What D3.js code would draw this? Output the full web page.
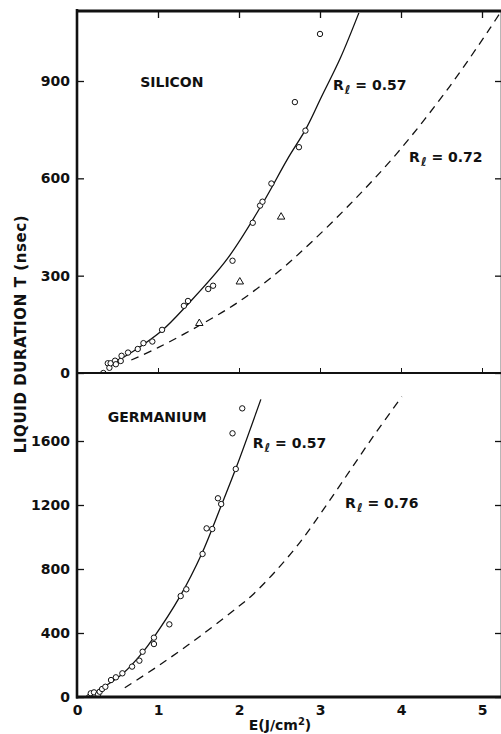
<!DOCTYPE html>
<html>
<head>
<meta charset="utf-8">
<title>Liquid duration vs E</title>
<script src="https://cdn.jsdelivr.net/npm/d3@7/dist/d3.min.js"></script>
<style>
  body { margin: 0; background: #fff; }
  svg { display: block; }
  text { font-family: "DejaVu Sans", sans-serif; font-weight: bold; fill: #111; }
</style>
</head>
<body>
<svg id="chart" width="501" height="734"></svg>
<script>
// ---- data ----
const xTicks = [0, 1, 2, 3, 4, 5];
const siTicks = [0, 300, 600, 900];
const geTicks = [0, 400, 800, 1200, 1600];

// silicon, circles
const siE = [0.325, 0.38, 0.40, 0.415, 0.47, 0.48, 0.54, 0.55, 0.63, 0.75, 0.82, 0.93, 1.05, 1.32, 1.37, 1.62, 1.68, 1.92, 2.17, 2.26, 2.29, 2.40, 2.69, 2.74, 2.82, 3.0];
const siT = [0, 30, 16, 30, 38, 27, 37, 53, 63, 74, 92, 97, 133, 207, 222, 259, 269, 346, 463, 516, 528, 584, 835, 696, 747, 1045];
// silicon, triangles
const siTriE = [1.51, 2.01, 2.52];
const siTriT = [153, 281, 481];
// silicon fits
const siFit57E = [0.37, 0.7, 1.05, 1.35, 1.85, 2.29, 2.6, 2.83, 3.02, 3.25, 3.48];
const siFit57T = [20, 68, 131, 207, 350, 522, 660, 754, 852, 970, 1110];
const siFit72E = [0.67, 1.0, 1.5, 2.0, 2.5, 2.88, 3.37, 3.95, 4.6, 5.1, 5.3];
const siFit72T = [40, 78, 145, 220, 315, 400, 520, 677, 883, 1063, 1140];

// germanium, circles
const geE = [0.15, 0.17, 0.21, 0.26, 0.28, 0.31, 0.35, 0.42, 0.48, 0.56, 0.68, 0.77, 0.81, 0.95, 0.95, 1.14, 1.28, 1.35, 1.55, 1.60, 1.67, 1.74, 1.78, 1.92, 1.96, 2.04];
const geT = [0, 23, 29, 17, 33, 50, 64, 106, 123, 148, 190, 227, 283, 371, 331, 454, 631, 673, 894, 1054, 1050, 1242, 1206, 1648, 1425, 1804];
// germanium fits
const geFit57E = [0.22, 0.37, 0.57, 0.80, 0.94, 1.27, 1.54, 1.78, 1.97, 2.27];
const geFit57T = [28, 75, 148, 273, 367, 627, 895, 1195, 1440, 1860];
const geFit76E = [0.59, 1.02, 1.52, 2.01, 2.16, 2.44, 2.75, 3.06, 3.37, 3.68, 4.01];
const geFit76T = [58, 200, 380, 572, 635, 780, 965, 1185, 1415, 1645, 1877];

// ---- layout ----
const svg = d3.select("#chart");
const edgeL = 77, edgeR = 502, edgeT = 11, edgeM = 373, edgeB = 697;

const x = d3.scaleLinear().domain([0, 5]).range([edgeL, 482]);
const ySi = d3.scaleLinear().domain([0, 900]).range([edgeM, 81]);
const yGe = d3.scaleLinear().domain([0, 1600]).range([edgeB, 441]);

const zip = (a, b) => a.map((v, i) => [v, b[i]]);
const fmt = d3.format("d");

// clip each panel
const defs = svg.append("defs");
defs.append("clipPath").attr("id", "clipSi").append("rect")
  .attr("x", edgeL).attr("y", edgeT).attr("width", edgeR - edgeL).attr("height", edgeM - edgeT);
defs.append("clipPath").attr("id", "clipGe").append("rect")
  .attr("x", edgeL).attr("y", edgeM).attr("width", edgeR - edgeL).attr("height", edgeB - edgeM);

function drawPanel(y, ticks, clipId, pts, tris, fits) {
  const g = svg.append("g");

  // inward ticks on the left, labels outside
  g.append("g")
    .attr("transform", `translate(${edgeL},0)`)
    .call(d3.axisLeft(y).tickValues(ticks).tickFormat(fmt).tickSizeInner(-7).tickSizeOuter(0).tickPadding(7))
    .call(a => a.select(".domain").remove())
    .call(a => a.selectAll("line").attr("stroke", "#111").attr("stroke-width", 1.3))
    .call(a => a.selectAll("text").attr("font-size", 14).attr("font-family", "DejaVu Sans").attr("font-weight", "bold").attr("fill", "#111"));

  // inward ticks on the right
  g.append("g")
    .attr("transform", `translate(${edgeR},0)`)
    .call(d3.axisRight(y).tickValues(ticks).tickSizeInner(-7).tickSizeOuter(0).tickFormat(""))
    .call(a => a.select(".domain").remove())
    .call(a => a.selectAll("line").attr("stroke", "#111").attr("stroke-width", 1.3));

  const body = g.append("g").attr("clip-path", `url(#${clipId})`);
  const line = d3.line().x(d => x(d[0])).y(d => y(d[1])).curve(d3.curveCatmullRom.alpha(0.5));

  fits.forEach(f => {
    body.append("path")
      .attr("d", line(zip(f.e, f.t)))
      .attr("fill", "none")
      .attr("stroke", "#111")
      .attr("stroke-width", 1.3)
      .attr("stroke-dasharray", f.dashed ? "8,6" : null);
  });

  body.selectAll("circle.pt")
    .data(zip(pts.e, pts.t))
    .join("circle")
    .attr("class", "pt")
    .attr("cx", d => x(d[0]))
    .attr("cy", d => y(d[1]))
    .attr("r", 2.7)
    .attr("fill", "#fff")
    .attr("stroke", "#111")
    .attr("stroke-width", 1);

  if (tris) {
    body.selectAll("path.tri")
      .data(zip(tris.e, tris.t))
      .join("path")
      .attr("class", "tri")
      .attr("d", d3.symbol(d3.symbolTriangle).size(24))
      .attr("transform", d => `translate(${x(d[0])},${y(d[1])})`)
      .attr("fill", "#fff")
      .attr("stroke", "#111")
      .attr("stroke-width", 1);
  }
  return g;
}

drawPanel(ySi, siTicks, "clipSi",
  { e: siE, t: siT }, { e: siTriE, t: siTriT },
  [{ e: siFit57E, t: siFit57T, dashed: false }, { e: siFit72E, t: siFit72T, dashed: true }]);

drawPanel(yGe, geTicks, "clipGe",
  { e: geE, t: geT }, null,
  [{ e: geFit57E, t: geFit57T, dashed: false }, { e: geFit76E, t: geFit76T, dashed: true }]);

// ticks pointing down from the top border, up from the middle axis
svg.append("g")
  .attr("transform", `translate(0,${edgeT})`)
  .call(d3.axisBottom(x).tickValues(xTicks.slice(1)).tickSizeInner(7).tickSizeOuter(0).tickFormat(""))
  .call(a => a.select(".domain").remove())
  .call(a => a.selectAll("line").attr("stroke", "#111").attr("stroke-width", 1.3));
svg.append("g")
  .attr("transform", `translate(0,${edgeM})`)
  .call(d3.axisTop(x).tickValues(xTicks.slice(1)).tickSizeInner(5).tickSizeOuter(0).tickFormat(""))
  .call(a => a.select(".domain").remove())
  .call(a => a.selectAll("line").attr("stroke", "#111").attr("stroke-width", 1));

// bottom axis labels
svg.append("g")
  .attr("transform", `translate(0,${edgeB})`)
  .call(d3.axisBottom(x).tickValues(xTicks).tickFormat(fmt).tickSizeInner(0).tickSizeOuter(0).tickPadding(8))
  .call(a => a.select(".domain").remove())
  .call(a => a.selectAll("text").attr("font-size", 14).attr("font-family", "DejaVu Sans").attr("font-weight", "bold").attr("fill", "#111"));

// frame lines
const frame = svg.append("g").attr("stroke", "#111").attr("fill", "none");
frame.append("line").attr("x1", edgeL).attr("x2", edgeL).attr("y1", edgeT - 2).attr("y2", edgeB + 1.5).attr("stroke-width", 2.6);
frame.append("line").attr("x1", edgeL - 1).attr("x2", edgeR).attr("y1", edgeT).attr("y2", edgeT).attr("stroke-width", 3);
frame.append("line").attr("x1", edgeL - 1).attr("x2", edgeR).attr("y1", edgeM).attr("y2", edgeM).attr("stroke-width", 2.2);
frame.append("line").attr("x1", edgeL - 1).attr("x2", edgeR).attr("y1", edgeB).attr("y2", edgeB).attr("stroke-width", 3);
frame.append("line").attr("x1", edgeR).attr("x2", edgeR).attr("y1", edgeT).attr("y2", edgeB).attr("stroke-width", 2.6);

// panel labels
function label(px, py, txt) {
  svg.append("text").attr("x", px).attr("y", py).attr("font-size", 14).text(txt);
}
function rLabel(px, py, val) {
  const t = svg.append("text").attr("x", px).attr("y", py).attr("font-size", 14);
  t.append("tspan").text("R");
  t.append("tspan").attr("dy", 4).attr("font-size", 12).attr("dx", 1).text("ℓ");
  t.append("tspan").attr("dy", -4).text(" = " + val);
}

label(x(0.78), 87, "SILICON");
rLabel(x(3.16), 90, "0.57");
rLabel(x(4.10), 162, "0.72");

label(x(0.38), 422, "GERMANIUM");
rLabel(x(2.17), 448, "0.57");
rLabel(x(3.31), 508, "0.76");

// axis titles
svg.append("text")
  .attr("transform", "translate(26,334) rotate(-90)")
  .attr("text-anchor", "middle")
  .attr("font-size", 15)
  .attr("letter-spacing", 0.6)
  .text("LIQUID DURATION T (nsec)");

const xt = svg.append("text")
  .attr("x", 280).attr("y", 730)
  .attr("text-anchor", "middle")
  .attr("font-size", 14);
xt.append("tspan").text("E(J/cm");
xt.append("tspan").attr("dy", -5).attr("font-size", 10).text("2");
xt.append("tspan").attr("dy", 5).text(")");
</script>
</body>
</html>
